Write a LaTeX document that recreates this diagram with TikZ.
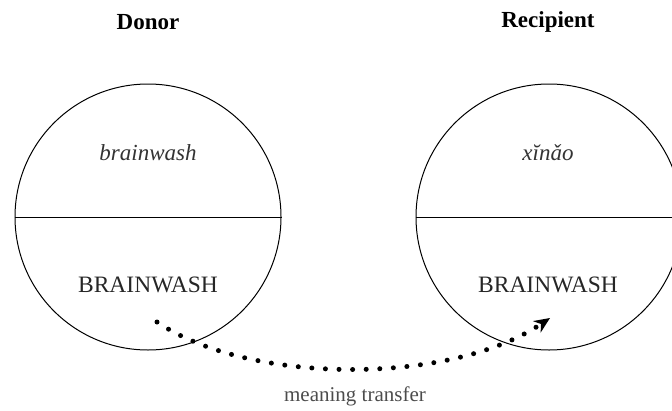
\documentclass[tikz,border=0pt]{standalone}
\usepackage{fontspec}
\setmainfont{Liberation Serif}[
  UprightFont=*,BoldFont=* Bold,ItalicFont=* Italic,BoldItalicFont=* Bold Italic]
\usetikzlibrary{arrows.meta}
\begin{document}
\begin{tikzpicture}[x=1pt,y=-1pt,
  lang/.style={circle,draw,line width=1pt,minimum size=266pt,inner sep=0pt},
  title/.style={font=\rmfamily\bfseries\fontsize{23}{25}\selectfont},
  form/.style={font=\rmfamily\itshape\fontsize{23}{25}\selectfont,text=black!80},
  sense/.style={font=\rmfamily\fontsize{23.5}{26}\selectfont,text=black!85},
  note/.style={font=\rmfamily\fontsize{21}{23}\selectfont,text=black!70},
  transfer/.style={line width=5pt,line cap=round,dash pattern=on 0pt off 13.6pt,
    -{Stealth[length=16pt,width=14pt,line width=0pt]}}]
\useasboundingbox (0,0) rectangle (672,410);
% donor and recipient circles, each split by a horizontal line
\node[lang] (donor) at (148,217) {};
\node[lang] (recip) at (549,217) {};
\draw[line width=1pt] (donor.west) -- (donor.east);
\draw[line width=1pt] (recip.west) -- (recip.east);
% headings
\node[title] (dt) at (148,22) {Donor};
\node[title] (rt) at (548,22) {Recipient};
% word forms in the upper halves
\node[form] (df) at (148,153) {brainwash};
\node[form] (rf) at (548,153) {xĭnǎo};
% meanings in the lower halves
\node[sense] (ds) at (148,285) {BRAINWASH};
\node[sense] (rs) at (548,285) {BRAINWASH};
% dotted transfer arrow
\coordinate (from) at (157,322);
\coordinate (to) at (550,318);
\draw[transfer] (from) .. controls (250,385) and (450,385) .. (to);
\node[note] (mt) at (355,396) {meaning transfer};
\end{tikzpicture}
\end{document}
